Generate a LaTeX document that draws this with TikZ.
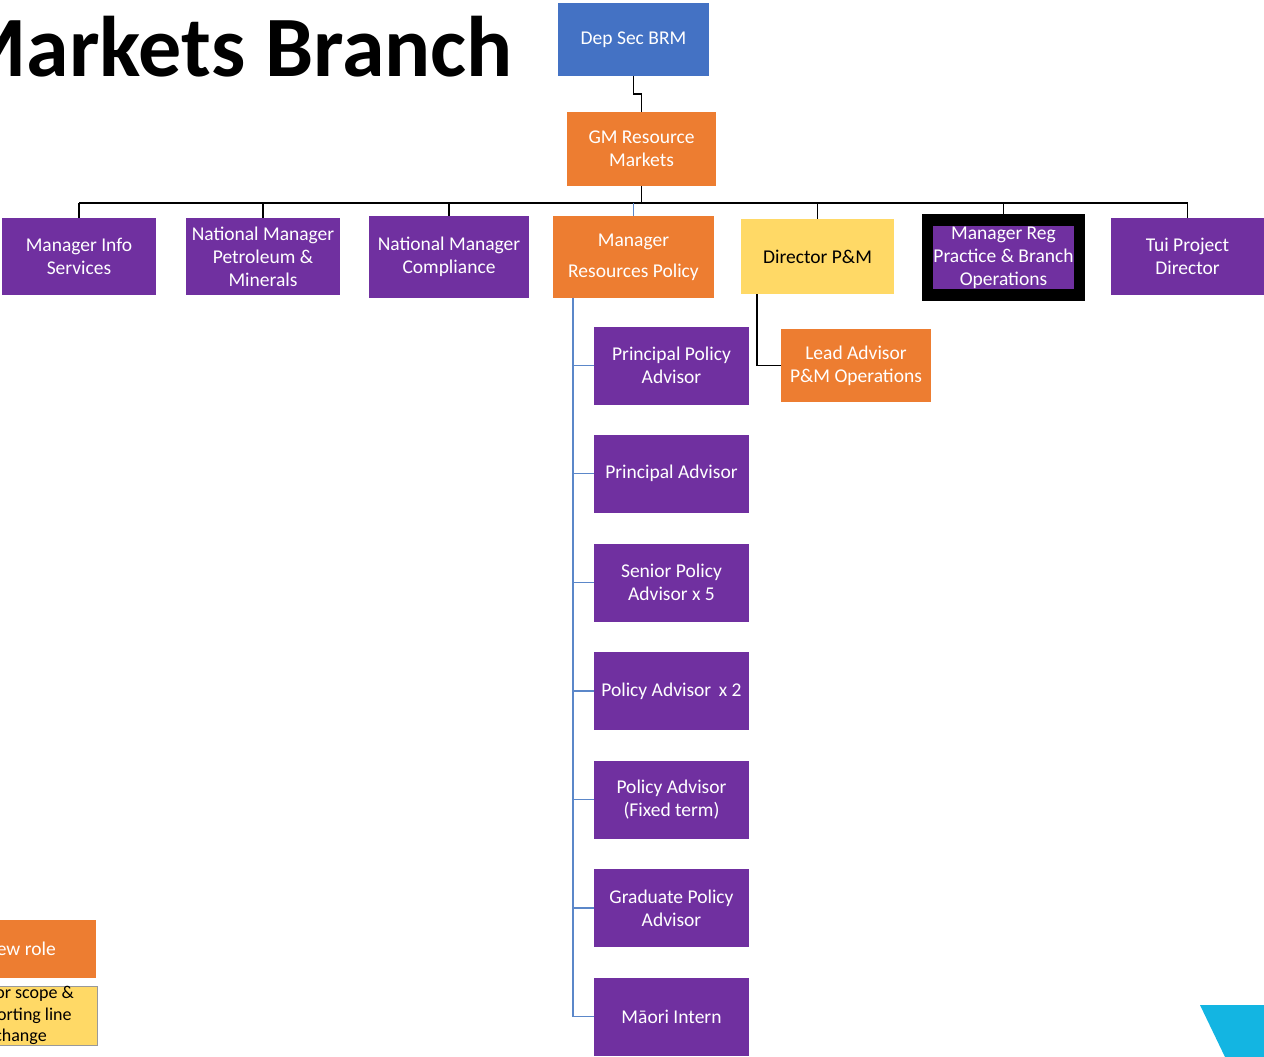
\documentclass[tikz,border=0pt]{standalone}
\usepackage{fontspec}
\setmainfont{Carlito}
\definecolor{purp}{HTML}{7030A0}
\definecolor{oran}{HTML}{ED7D31}
\definecolor{yell}{HTML}{FFD966}
\definecolor{blu}{HTML}{4472C4}
\definecolor{spine}{HTML}{5B87C9}
\definecolor{cyanx}{HTML}{13B5E2}
\begin{document}
\begin{tikzpicture}[x=1pt,y=-1pt,
  box/.style={rectangle, inner sep=0pt, align=center, text=white, font=\fontsize{19.5}{23}\selectfont},
  pbox/.style={box, fill=purp},
  obox/.style={box, fill=oran},
  ybox/.style={box, fill=yell, text=black},
  conn/.style={draw=black, line width=1.6pt},
  bconn/.style={draw=spine, line width=1.3pt}]
\useasboundingbox (0,0) rectangle (1264,1057);
% title
\node[anchor=base east, inner sep=0pt, font=\fontsize{86}{86}\selectfont\bfseries] (title) at (513,77) {Markets Branch};
% top
\node[box, fill=blu, minimum width=151pt, minimum height=73pt] (dep) at (633.5,39.5) {Dep Sec BRM};
\node[obox, minimum width=149pt, minimum height=74pt] (gm) at (641.5,149) {GM Resource\\Markets};
% level 2
\node[pbox, minimum width=154pt, minimum height=77pt] (mis) at (79,256.5) {Manager Info\\Services};
\node[pbox, minimum width=154pt, minimum height=77pt] (nmp) at (263,256.5) {National Manager\\Petroleum \&\\Minerals};
\node[pbox, minimum width=160pt, minimum height=82pt] (nmc) at (449,257) {National Manager\\Compliance};
\node[obox, minimum width=161pt, minimum height=82pt, font=\fontsize{19.5}{31}\selectfont] (mrp) at (633.5,257) {Manager\\Resources Policy};
\node[ybox, minimum width=153pt, minimum height=75pt] (dir) at (817.5,256.5) {Director P\&M};
\node[rectangle, fill=black, inner sep=0pt, minimum width=163pt, minimum height=87pt] (mrgo) at (1003.5,257.5) {};
\node[pbox, minimum width=141pt, minimum height=63pt] (mrg) at (1003.5,257.5) {Manager Reg\\Practice \& Branch\\Operations};
\node[pbox, minimum width=153pt, minimum height=77pt] (tui) at (1187.5,256.5) {Tui Project\\Director};
% lead advisor
\node[obox, minimum width=150pt, minimum height=73pt] (lead) at (856,365.5) {Lead Advisor\\P\&M Operations};
% policy team
\node[pbox, minimum width=155pt, minimum height=78pt] (ppa) at (671.5,365.5) {Principal Policy\\Advisor};
\node[pbox, minimum width=155pt, minimum height=78pt] (pa) at (671.5,473.5) {Principal Advisor};
\node[pbox, minimum width=155pt, minimum height=78pt] (spa) at (671.5,582.5) {Senior Policy\\Advisor x 5};
\node[pbox, minimum width=155pt, minimum height=78pt] (pa2) at (671.5,691) {Policy Advisor\, x 2};
\node[pbox, minimum width=155pt, minimum height=78pt] (paf) at (671.5,799.5) {Policy Advisor\\(Fixed term)};
\node[pbox, minimum width=155pt, minimum height=78pt] (gpa) at (671.5,908) {Graduate Policy\\Advisor};
\node[pbox, minimum width=155pt, minimum height=78pt] (mi) at (671.5,1016.5) {M\=aori Intern};
% legend
\node[obox, minimum width=152pt, minimum height=58pt] (lnew) at (20,949) {New role};
\node[ybox, draw=gray!80, line width=1pt, minimum width=153pt, minimum height=59pt, font=\fontsize{18}{21.5}\selectfont] (lmaj) at (20.5,1015.5) {Major scope \&\\Reporting line\\change};
% cyan corner shape
\fill[cyanx] (1200,1005) -- (1264,1005) -- (1264,1057) -- (1225,1057) -- cycle;
% connectors
\coordinate (jog) at (0,94);
\draw[conn, line width=1.4pt] (dep.south) -- (dep.south |- jog) -| (gm.north);
\coordinate (bus) at (0,203);
\draw[conn] (mis.north |- bus) -- (tui.north |- bus);
\draw[conn] (gm.south) -- (gm.south |- bus);
\foreach \n in {mis,nmp,nmc,dir,mrgo,tui} {\draw[conn] (\n.north) -- (\n.north |- bus);}
\draw[bconn] (mrp.north) -- (mrp.north |- bus);
\coordinate (sp) at (573,0);
\foreach \n in {ppa,pa,spa,pa2,paf,gpa,mi} {\draw[bconn] (mrp.south -| sp) |- (\n.west);}
\coordinate (dl) at (757,0);
\draw[conn] (dir.south -| dl) |- (lead.west);
\end{tikzpicture}
\end{document}
